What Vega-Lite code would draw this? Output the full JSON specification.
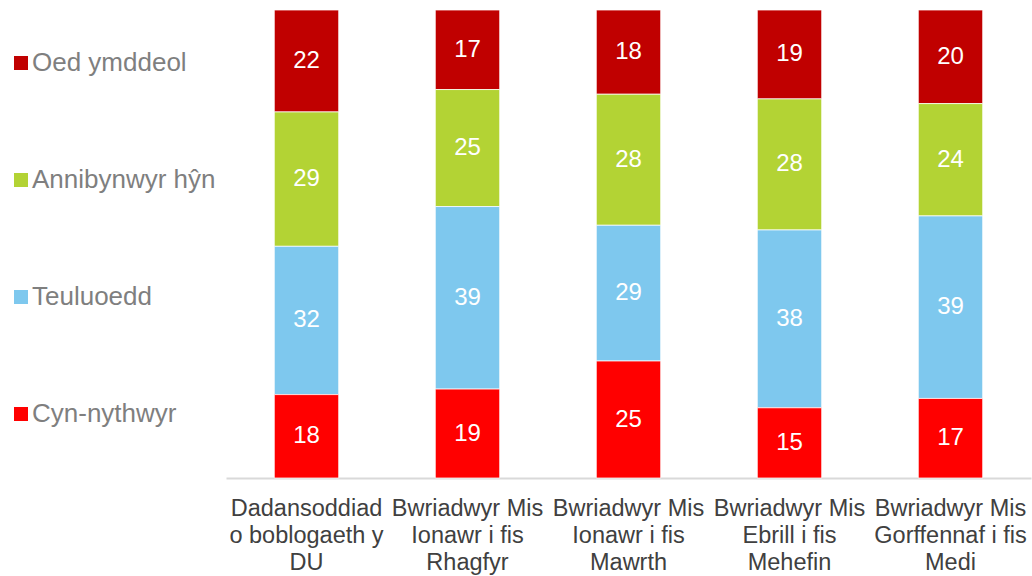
{
  "$schema": "https://vega.github.io/schema/vega-lite/v6.json",
  "width": 805,
  "height": 468,
  "autosize": "none",
  "padding": {"left": 226, "top": 10, "right": 1, "bottom": 98},
  "background": "white",
  "config": {
    "view": {"stroke": null},
    "font": "Liberation Sans"
  },
  "data": {
    "values": [
      {"cat": "Dadansoddiad o boblogaeth y DU", "group": "Oed ymddeol", "rank": 1, "value": 22},
      {"cat": "Dadansoddiad o boblogaeth y DU", "group": "Annibynwyr hŷn", "rank": 2, "value": 29},
      {"cat": "Dadansoddiad o boblogaeth y DU", "group": "Teuluoedd", "rank": 3, "value": 32},
      {"cat": "Dadansoddiad o boblogaeth y DU", "group": "Cyn-nythwyr", "rank": 4, "value": 18},
      {"cat": "Bwriadwyr Mis Ionawr i fis Rhagfyr", "group": "Oed ymddeol", "rank": 1, "value": 17},
      {"cat": "Bwriadwyr Mis Ionawr i fis Rhagfyr", "group": "Annibynwyr hŷn", "rank": 2, "value": 25},
      {"cat": "Bwriadwyr Mis Ionawr i fis Rhagfyr", "group": "Teuluoedd", "rank": 3, "value": 39},
      {"cat": "Bwriadwyr Mis Ionawr i fis Rhagfyr", "group": "Cyn-nythwyr", "rank": 4, "value": 19},
      {"cat": "Bwriadwyr Mis Ionawr i fis Mawrth", "group": "Oed ymddeol", "rank": 1, "value": 18},
      {"cat": "Bwriadwyr Mis Ionawr i fis Mawrth", "group": "Annibynwyr hŷn", "rank": 2, "value": 28},
      {"cat": "Bwriadwyr Mis Ionawr i fis Mawrth", "group": "Teuluoedd", "rank": 3, "value": 29},
      {"cat": "Bwriadwyr Mis Ionawr i fis Mawrth", "group": "Cyn-nythwyr", "rank": 4, "value": 25},
      {"cat": "Bwriadwyr Mis Ebrill i fis Mehefin", "group": "Oed ymddeol", "rank": 1, "value": 19},
      {"cat": "Bwriadwyr Mis Ebrill i fis Mehefin", "group": "Annibynwyr hŷn", "rank": 2, "value": 28},
      {"cat": "Bwriadwyr Mis Ebrill i fis Mehefin", "group": "Teuluoedd", "rank": 3, "value": 38},
      {"cat": "Bwriadwyr Mis Ebrill i fis Mehefin", "group": "Cyn-nythwyr", "rank": 4, "value": 15},
      {"cat": "Bwriadwyr Mis Gorffennaf i fis Medi", "group": "Oed ymddeol", "rank": 1, "value": 20},
      {"cat": "Bwriadwyr Mis Gorffennaf i fis Medi", "group": "Annibynwyr hŷn", "rank": 2, "value": 24},
      {"cat": "Bwriadwyr Mis Gorffennaf i fis Medi", "group": "Teuluoedd", "rank": 3, "value": 39},
      {"cat": "Bwriadwyr Mis Gorffennaf i fis Medi", "group": "Cyn-nythwyr", "rank": 4, "value": 17}
    ]
  },
  "encoding": {
    "x": {
      "field": "cat",
      "type": "nominal",
      "sort": null,
      "title": null,
      "scale": {"paddingInner": 0.6, "paddingOuter": 0.3},
      "axis": {
        "labelAngle": 0,
        "domainColor": "#d9d9d9",
        "domainWidth": 2,
        "ticks": false,
        "tickSize": 0,
        "labelPadding": 18,
        "labelFontSize": 23.5,
        "labelColor": "#404040",
        "labelLineHeight": 27,
        "labelBaseline": "top",
        "labelLimit": 300,
        "labelExpr": "datum.value == 'Dadansoddiad o boblogaeth y DU' ? ['Dadansoddiad', 'o boblogaeth y', 'DU'] : datum.value == 'Bwriadwyr Mis Ionawr i fis Rhagfyr' ? ['Bwriadwyr Mis', 'Ionawr i fis', 'Rhagfyr'] : datum.value == 'Bwriadwyr Mis Ionawr i fis Mawrth' ? ['Bwriadwyr Mis', 'Ionawr i fis', 'Mawrth'] : datum.value == 'Bwriadwyr Mis Ebrill i fis Mehefin' ? ['Bwriadwyr Mis', 'Ebrill i fis', 'Mehefin'] : ['Bwriadwyr Mis', 'Gorffennaf i fis', 'Medi']"
      }
    },
    "order": {"field": "rank", "type": "quantitative", "sort": "descending"}
  },
  "layer": [
    {
      "mark": {"type": "bar", "stroke": "white", "strokeWidth": 0.75},
      "encoding": {
        "y": {"field": "value", "type": "quantitative", "stack": "normalize", "axis": null, "scale": {"domain": [0, 1], "nice": false}},
        "color": {
          "field": "group",
          "type": "nominal",
          "scale": {
            "domain": ["Oed ymddeol", "Annibynwyr hŷn", "Teuluoedd", "Cyn-nythwyr"],
            "range": ["#C00000", "#B3D334", "#7EC8EE", "#FF0000"]
          },
          "legend": {
            "title": null,
            "orient": "none",
            "legendX": -218,
            "legendY": 40,
            "padding": 0,
            "symbolType": "square",
            "symbolSize": 196,
            "symbolStrokeWidth": 0,
            "symbolOpacity": 1,
            "labelFontSize": 26,
            "labelColor": "#7f7f7f",
            "labelOffset": -2,
            "labelLimit": 300,
            "rowPadding": 91
          }
        }
      }
    },
    {
      "mark": {"type": "text", "color": "white", "fontSize": 24, "baseline": "middle", "align": "center"},
      "encoding": {
        "y": {"field": "value", "type": "quantitative", "stack": "normalize", "bandPosition": 0.5},
        "text": {"field": "value", "type": "quantitative", "format": ".0f"}
      }
    }
  ]
}
